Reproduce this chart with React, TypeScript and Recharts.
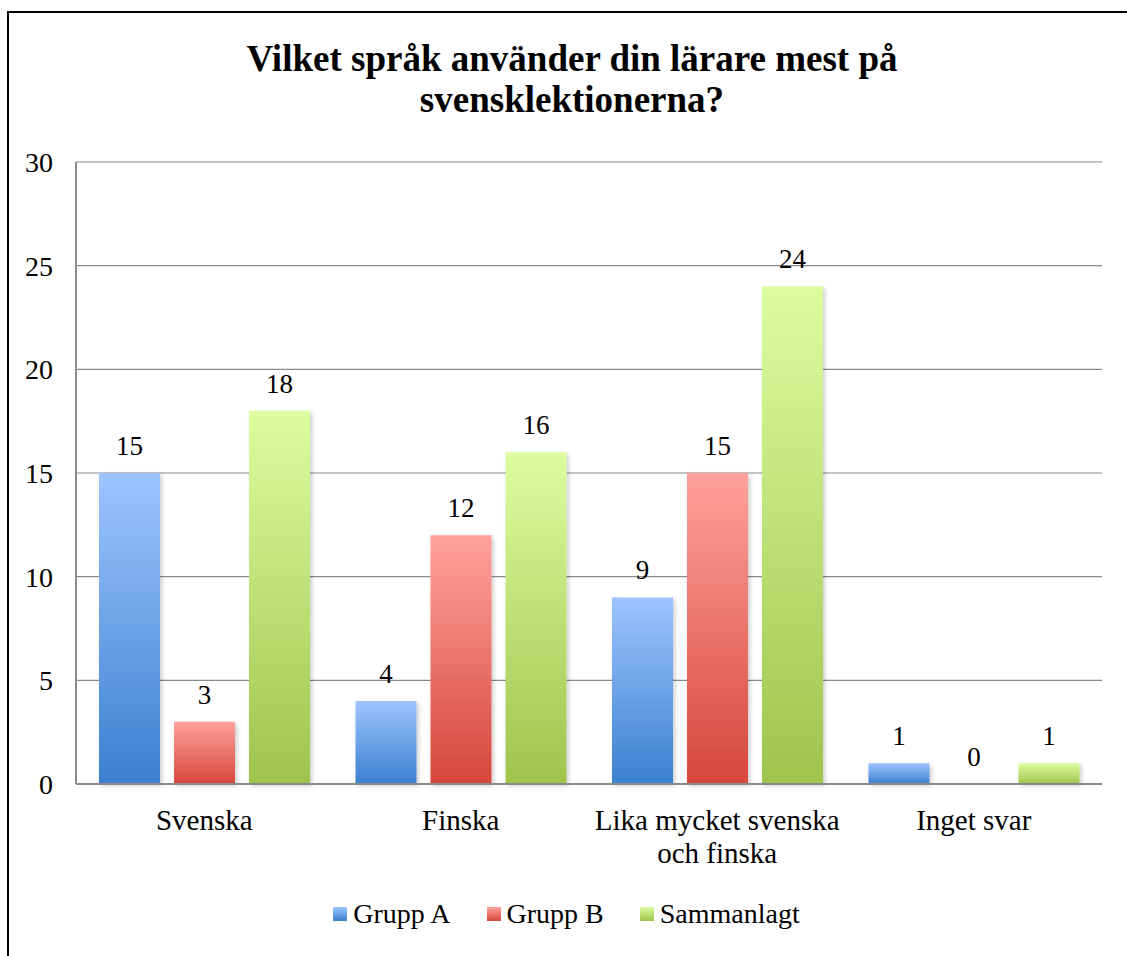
import React from "react";
import {
  BarChart,
  Bar,
  XAxis,
  YAxis,
  CartesianGrid,
  LabelList,
} from "recharts";

const categories = [
  "Svenska",
  "Finska",
  "Lika mycket svenska och finska",
  "Inget svar",
];
const gruppA = [15, 4, 9, 1];
const gruppB = [3, 12, 15, 0];
const sammanlagt = [18, 16, 24, 1];
const yTicks = [0, 5, 10, 15, 20, 25, 30];

const title = "Vilket språk använder din lärare mest på svensklektionerna?";

const series = [
  { key: "gruppA", name: "Grupp A", top: "#9dc4ff", bottom: "#3b80cf" },
  { key: "gruppB", name: "Grupp B", top: "#ffa19c", bottom: "#d6473c" },
  { key: "sammanlagt", name: "Sammanlagt", top: "#dcfda0", bottom: "#9ec44c" },
];

const data = categories.map((c, i) => ({
  category: c,
  gruppA: gruppA[i],
  gruppB: gruppB[i],
  sammanlagt: sammanlagt[i],
}));

const FONT = "'Liberation Serif', 'Times New Roman', serif";

let measureCtx: CanvasRenderingContext2D | null = null;
function textWidth(s: string, size: number) {
  if (!measureCtx) measureCtx = document.createElement("canvas").getContext("2d");
  if (!measureCtx) return s.length * size * 0.45;
  measureCtx.font = `${size}px ${FONT}`;
  return measureCtx.measureText(s).width;
}

// greedy word wrap so the long category breaks onto two lines
function wrap(label: string, maxWidth: number, size: number) {
  const lines: string[] = [];
  let line = "";
  for (const w of label.split(" ")) {
    const next = line ? line + " " + w : w;
    if (line && textWidth(next, size) > maxWidth) {
      lines.push(line);
      line = w;
    } else {
      line = next;
    }
  }
  if (line) lines.push(line);
  return lines;
}

function CategoryTick(props: any) {
  const { x, y, payload } = props;
  const lines = wrap(String(payload.value), 262, 29);
  return (
    <text
      x={x}
      y={y + 46}
      textAnchor="middle"
      fill="#000"
      fontSize={29}
      fontFamily={FONT}
    >
      {lines.map((l, i) => (
        <tspan key={i} x={x} dy={i === 0 ? 0 : 33}>
          {l}
        </tspan>
      ))}
    </text>
  );
}

function ValueLabel(props: any) {
  const { x, y, width, value } = props;
  return (
    <text
      x={x + width / 2}
      y={y - 18}
      textAnchor="middle"
      fill="#000"
      fontSize={27}
      fontFamily={FONT}
    >
      {value}
    </text>
  );
}

export default function App() {
  return (
    <div
      style={{
        position: "relative",
        width: 1127,
        height: 956,
        overflow: "hidden",
        background: "#fff",
        fontFamily: FONT,
      }}
    >
      <style>{`body{margin:0}`}</style>
      <div
        style={{
          position: "absolute",
          left: 7,
          top: 11,
          width: 1200,
          height: 1000,
          border: "2px solid #000",
        }}
      />
      <div
        style={{
          position: "absolute",
          left: 170,
          top: 38,
          width: 804,
          textAlign: "center",
          fontWeight: "bold",
          fontSize: 37,
          lineHeight: "41px",
        }}
      >
        {title}
      </div>

      <div style={{ position: "absolute", left: 0, top: 0 }}>
        <BarChart
          width={1127}
          height={956}
          data={data}
          margin={{ top: 162, right: 25, left: 16, bottom: 112 }}
          barCategoryGap={23}
          barGap={14}
        >
          <defs>
            {series.map((s) => (
              <linearGradient key={s.key} id={`grad-${s.key}`} x1="0" y1="0" x2="0" y2="1">
                <stop offset="0%" stopColor={s.top} />
                <stop offset="100%" stopColor={s.bottom} />
              </linearGradient>
            ))}
            <filter id="barShadow" x="-20%" y="-20%" width="140%" height="140%">
              <feDropShadow dx="2" dy="2" stdDeviation="2" floodColor="#000" floodOpacity="0.2" />
            </filter>
          </defs>
          <CartesianGrid vertical={false} stroke="#8a8a8a" strokeWidth={1.2} />
          <XAxis
            dataKey="category"
            height={60}
            stroke="#8a8a8a"
            strokeWidth={2}
            tickLine={false}
            tickSize={0}
            tickMargin={0}
            interval={0}
            tick={<CategoryTick />}
          />
          <YAxis
            width={60}
            domain={[0, 30]}
            ticks={yTicks}
            interval={0}
            stroke="#8a8a8a"
            strokeWidth={2}
            tickLine={false}
            tickSize={0}
            tickMargin={23}
            tick={{ fill: "#000", fontSize: 28, fontFamily: FONT }}
          />
          {series.map((s) => (
            <Bar
              key={s.key}
              dataKey={s.key}
              name={s.name}
              fill={`url(#grad-${s.key})`}
              filter="url(#barShadow)"
              minPointSize={0.01}
              isAnimationActive={false}
            >
              <LabelList dataKey={s.key} content={<ValueLabel />} />
            </Bar>
          ))}
        </BarChart>
      </div>

      <div
        style={{
          position: "absolute",
          top: 896,
          left: 0,
          width: 1127,
          display: "flex",
          justifyContent: "center",
          alignItems: "center",
          fontSize: 28,
          lineHeight: "36px",
          paddingLeft: 3,
        }}
      >
        {series.map((s, i) => (
          <div
            key={s.key}
            style={{ display: "flex", alignItems: "center", marginLeft: i === 0 ? 0 : 36 }}
          >
            <span
              style={{
                display: "inline-block",
                width: 14,
                height: 14,
                marginRight: 6,
                background: `linear-gradient(${s.top}, ${s.bottom})`,
              }}
            />
            <span>{s.name}</span>
          </div>
        ))}
      </div>
    </div>
  );
}
